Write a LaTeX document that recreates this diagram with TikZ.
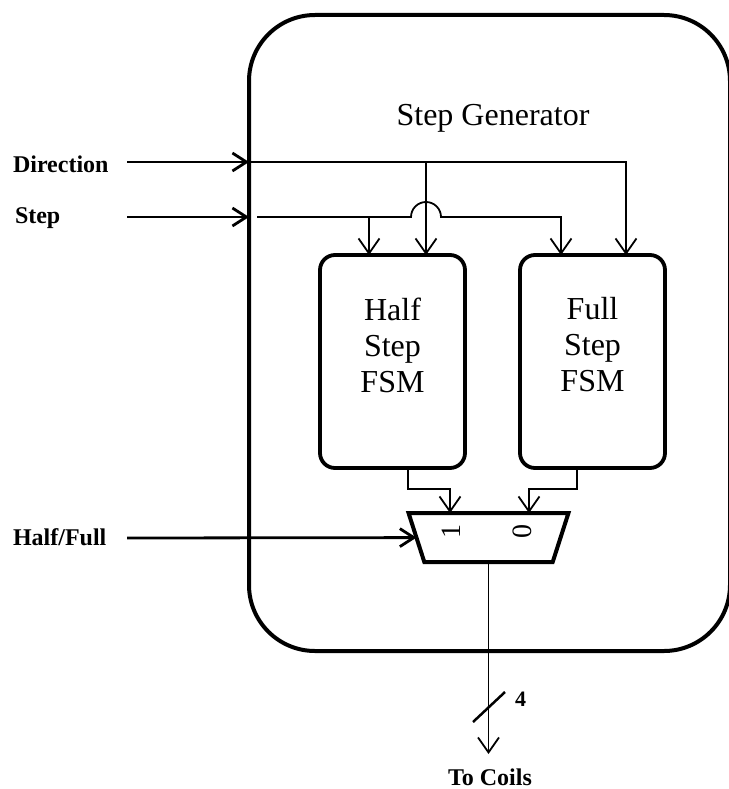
\documentclass[tikz,border=0pt]{standalone}
\usepackage{fontspec}
\setmainfont{Liberation Serif}
\usetikzlibrary{arrows.meta,shapes.geometric}

\begin{document}
\begin{tikzpicture}[x=1pt, y=-1pt, every node/.style={inner sep=0pt, outer sep=0pt}]
\tikzstyle{outer} = [rectangle, rounded corners=66pt, minimum width=481pt, minimum height=636pt,
draw=black, line width=4pt]
\tikzstyle{block} = [rectangle, rounded corners=15pt, minimum width=145pt, minimum height=213pt,
draw=black, line width=3.8pt]
\tikzstyle{muxbox} = [trapezium, trapezium stretches=true, shape border rotate=180, inner sep=4pt,
trapezium left angle=83, trapezium right angle=83, minimum width=160pt, minimum height=49pt,
draw=black, line width=4pt]
\tikzstyle{title} = [font=\fontsize{32}{36}\selectfont]
\tikzstyle{pin} = [font=\fontsize{24}{28}\selectfont\bfseries, anchor=base west]
\tikzstyle{arrow} = [line width=1.8pt, -{Straight Barb[length=15pt,width=21pt]}]
\tikzstyle{inarrow} = [line width=2.8pt, -{Straight Barb[length=14pt,width=18pt]}]

\useasboundingbox (0,0) rectangle (728,789);

% Nodes
\node (gen) [outer] at (489.5,333) {};
\node (gentxt) [title, anchor=base] at (493,125) {Step Generator};
\node (half) [block] at (392.5,361.5) {};
\node (full) [block] at (592.5,361.5) {};
\node (halftxt) [title, align=center] at (392.5,345) {Half\\Step\\FSM};
\node (fulltxt) [title, align=center] at (592.5,345) {Full\\Step\\FSM};
\node (mux) [muxbox] at (488.5,537.5) {};
\node (one) [font=\fontsize{28}{30}\selectfont, rotate=90] at (451,531) {1};
\node (zero) [font=\fontsize{28}{30}\selectfont, rotate=90] at (522,531) {0};
\node (dir) [pin] at (13,172) {Direction};
\node (step) [pin] at (15,223) {Step};
\node (hf) [pin] at (13,545) {Half/Full};
\node (four) [font=\fontsize{22}{24}\selectfont\bfseries, anchor=west] at (515,699) {4};
\node (coils) [pin, anchor=base] at (490,785) {To Coils};

\coordinate (dirsrc) at (127,162);
\coordinate (stepsrc) at (127,217);
\coordinate (hfsrc) at (127,538);
\coordinate (in1) at (450,513);
\coordinate (in0) at (529,513);
\coordinate (bus) at (489,707);
\coordinate (tip) at (488.5,754);

% Arrows
\draw [inarrow] (dirsrc) -- (dirsrc -| gen.west);
\draw [inarrow] (stepsrc) -- (stepsrc -| gen.west);
\draw [inarrow] (hfsrc) -- (mux);

\draw [arrow] (dirsrc -| gen.west) -| ([xshift=33.5pt]full.north);
\draw [arrow] ([xshift=33.5pt]half.north |- dirsrc) -- ([xshift=33.5pt]half.north);
\draw [arrow] ([xshift=8pt]stepsrc -| gen.west) -- ([xshift=18.5pt]half.north |- stepsrc)
  arc[start angle=180, end angle=0, radius=15pt] -| ([xshift=-31.5pt]full.north);
\draw [arrow] ([xshift=-23.5pt]half.north |- stepsrc) -- ([xshift=-23.5pt]half.north);

\draw [arrow] ([xshift=15.5pt]half.south) -- ++(0,21) -| (in1);
\draw [arrow] ([xshift=-15.5pt]full.south) -- ++(0,21) -| (in0);

\draw [arrow] (mux) -- (tip);
\draw [line width=2.5pt] ([shift={(-16,15)}]bus) -- ([shift={(16,-15)}]bus);
\end{tikzpicture}
\end{document}
